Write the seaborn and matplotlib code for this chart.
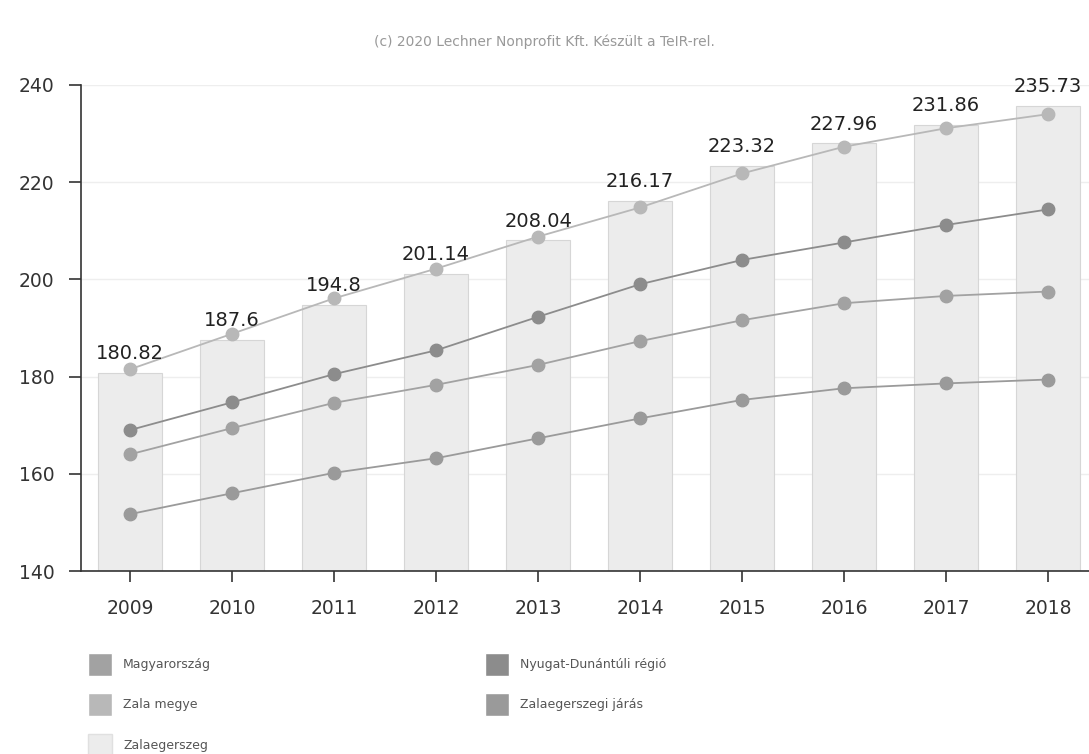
import pandas as pd
import matplotlib
matplotlib.use('Agg')
import matplotlib.pyplot as plt
from matplotlib.patches import Patch
import seaborn as sns

# data
years = ['2009', '2010', '2011', '2012', '2013', '2014', '2015', '2016', '2017', '2018']
zalaegerszeg = [180.82, 187.6, 194.8, 201.14, 208.04, 216.17, 223.32, 227.96, 231.86, 235.73]
zala_megye = [181.5, 188.8, 196.1, 202.2, 208.8, 214.8, 221.8, 227.3, 231.1, 234.0]
nyugat_dunantul = [169.0, 174.7, 180.5, 185.4, 192.3, 199.0, 204.0, 207.6, 211.2, 214.4]
magyarorszag = [164.0, 169.4, 174.6, 178.3, 182.4, 187.3, 191.6, 195.1, 196.6, 197.5]
zeg_jaras = [151.7, 156.0, 160.2, 163.2, 167.3, 171.4, 175.2, 177.6, 178.6, 179.4]

line_names = ['Magyarország', 'Nyugat-Dunántúli régió', 'Zala megye', 'Zalaegerszegi járás']
line_colors = {'Magyarország': '#a2a2a2', 'Nyugat-Dunántúli régió': '#8c8c8c',
               'Zala megye': '#b8b8b8', 'Zalaegerszegi járás': '#9a9a9a'}
bar_color = '#ececec'

bars = pd.DataFrame({'year': years, 'value': zalaegerszeg})
lines = pd.DataFrame({
    'year': years * 4,
    'value': magyarorszag + nyugat_dunantul + zala_megye + zeg_jaras,
    'series': [n for n in line_names for _ in years],
})

sns.set_style('white')
fig = plt.figure(figsize=(10.89, 7.54), dpi=100)
ax = fig.add_axes([0.0744, 0.2427, 0.9256, 0.6446])

sns.barplot(data=bars, x='year', y='value', order=years, color=bar_color,
            edgecolor='#d6d6d6', linewidth=0.8, width=0.63, ax=ax, zorder=2)
sns.pointplot(data=lines, x='year', y='value', hue='series', order=years,
              hue_order=line_names, palette=line_colors, markers='o',
              markersize=9, linewidth=1.3, ax=ax, legend=False, zorder=3)

# value labels above the bars
for i, v in enumerate(zalaegerszeg):
    ax.annotate(f'{v:g}', (i, v), xytext=(0, 7), textcoords='offset points',
                ha='center', va='bottom', fontsize=14, color='#222222', zorder=5)

ax.set_ylim(140, 240)
ax.set_xlim(-0.48, 9.40)
ax.set_yticks([140, 160, 180, 200, 220, 240])
ax.set_xlabel('')
ax.set_ylabel('')
ax.yaxis.grid(True, color='#eeeeee', linewidth=1)
ax.set_axisbelow(True)
for s in ['top', 'right']:
    ax.spines[s].set_visible(False)
for s in ['left', 'bottom']:
    ax.spines[s].set_color('#333333')
    ax.spines[s].set_linewidth(1.2)
ax.tick_params(axis='y', length=9, width=1.2, color='#333333', labelsize=13.5,
               labelcolor='#333333', left=True, pad=10)
ax.tick_params(axis='x', length=8, width=1.2, color='#333333', labelsize=13.5,
               labelcolor='#333333', bottom=True, pad=12)

fig.text(0.5, 0.944, '(c) 2020 Lechner Nonprofit Kft. Készült a TeIR-rel.',
         ha='center', va='center', fontsize=10, color='#999999')

handles = [Patch(facecolor=line_colors['Magyarország']),
           Patch(facecolor=line_colors['Zala megye']),
           Patch(facecolor=bar_color, edgecolor='#e0e0e0'),
           Patch(facecolor=line_colors['Nyugat-Dunántúli régió']),
           Patch(facecolor=line_colors['Zalaegerszegi járás'])]
labels = ['Magyarország', 'Zala megye', 'Zalaegerszeg',
          'Nyugat-Dunántúli régió', 'Zalaegerszegi járás']
fig.legend(handles, labels, ncol=2, loc='upper left', bbox_to_anchor=(0.081, 0.134),
           frameon=False, fontsize=9, labelcolor='#555555', handlelength=1.9,
           handleheight=2.4, handletextpad=0.9, labelspacing=1.42, columnspacing=21.9,
           borderaxespad=0, borderpad=0)

fig.savefig('out.png', dpi=100)
